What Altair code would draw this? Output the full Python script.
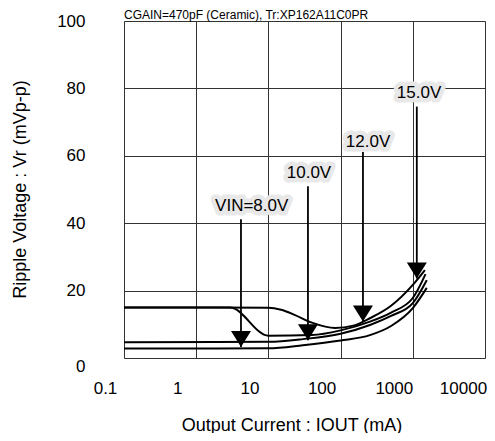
import altair as alt
import pandas as pd

# ---- curve data (Output current mA, ripple mVp-p) ----
c15_i = [0.1, 10, 15, 23, 40, 84, 150, 255, 500, 1000, 1470]
c15_v = [15.0, 14.9, 14.3, 12.8, 10.5, 8.9, 9.6, 11.8, 15.5, 21.7, 26.1]

c12_i = [0.1, 2.94, 10, 40, 100, 255, 500, 1000, 1500]
c12_v = [15.0, 15.0, 6.6, 6.8, 8.2, 10.8, 13.5, 17.8, 24.9]

c10_i = [0.1, 10, 30, 100, 255, 500, 1000, 1560]
c10_v = [4.7, 4.8, 5.6, 7.2, 9.8, 12.5, 16.3, 23.1]

c8_i = [0.1, 10, 30, 100, 255, 500, 1000, 1560]
c8_v = [2.8, 2.9, 3.8, 5.2, 6.8, 9.5, 14.8, 20.8]

# ---- arrow annotations ----
arrow_labels = ["VIN=8.0V", "10.0V", "12.0V", "15.0V"]
arrow_x = [4.17, 35.3, 204, 1136]
arrow_top = [41.2, 51.0, 61.1, 74.6]
arrow_tip = [3.3, 5.3, 10.8, 23.6]
label_x = [5.87, 36.5, 240, 1219]
label_y = [45.0, 54.9, 64.2, 78.5]

# ---- axis ticks ----
x_ticks = [0.1, 1, 10, 100, 1000, 10000]
y_ticks = [0, 20, 40, 60, 80, 100]

TITLE = "CGAIN=470pF (Ceramic), Tr:XP162A11C0PR"
FONT = "Liberation Sans"
BG = "#e8e8e8"

rows = []
for name, xs, ys in [("15.0V", c15_i, c15_v), ("12.0V", c12_i, c12_v),
                     ("10.0V", c10_i, c10_v), ("8.0V", c8_i, c8_v)]:
    for k, (a, b) in enumerate(zip(xs, ys)):
        rows.append({"series": name, "order": k, "I": a, "V": b})
curves = pd.DataFrame(rows)

arrows = pd.DataFrame({
    "label": arrow_labels, "x": arrow_x, "top": arrow_top, "tip": arrow_tip,
    "lx": label_x, "ly": label_y,
})

xscale = alt.Scale(type="log", domain=[0.1, 10000], nice=False)
yscale = alt.Scale(domain=[0, 100], nice=False, zero=False)

xaxis = alt.Axis(
    values=x_ticks, grid=True, gridColor="#333333", gridWidth=1,
    domain=False, ticks=False,
    labelExpr="datum.value < 1 ? '0.1' : format(datum.value, 'd')",
    labelFont=FONT, labelFontSize=17, labelColor="black",
    labelPadding=22, labelFlush=False,
    labelOffset={"condition": {"test": "datum.value == 10000", "value": -22}, "value": -19},
    title="Output Current : IOUT (mA)", titleFont=FONT, titleFontSize=18,
    titleFontWeight="normal", titleColor="black",
    titleX=167.5, titleY=67, titleAlign="center", titleBaseline="middle",
)
yaxis = alt.Axis(
    values=y_ticks, grid=True, gridColor="#333333", gridWidth=1,
    domain=False, ticks=False,
    labelFont=FONT, labelFontSize=17, labelColor="black",
    labelPadding=39, labelFlush=False,
    labelOffset={"condition": {"test": "datum.value == 0", "value": 8}, "value": 0},
    title="Ripple Voltage : Vr (mVp-p)", titleFont=FONT, titleFontSize=18,
    titleFontWeight="normal", titleColor="black",
    titleX=-104, titleY=168, titleAngle=270, titleAlign="center",
    titleBaseline="middle",
)

lines = alt.Chart(curves).mark_line(
    color="black", strokeWidth=2, interpolate="monotone", clip=True
).encode(
    x=alt.X("I:Q", scale=xscale, axis=xaxis),
    y=alt.Y("V:Q", scale=yscale, axis=yaxis),
    detail="series:N",
    order="order:Q",
)

rules = alt.Chart(arrows).mark_rule(color="black", strokeWidth=1.8).encode(
    x=alt.X("x:Q", scale=xscale),
    y=alt.Y("top:Q", scale=yscale),
    y2="tip:Q",
)

heads = alt.Chart(arrows).mark_point(
    shape="M-1,-1.6L1,-1.6L0,0Z", size=400, filled=True, color="black",
    opacity=1, strokeWidth=0,
).encode(
    x=alt.X("x:Q", scale=xscale),
    y=alt.Y("tip:Q", scale=yscale),
)

halo = alt.Chart(arrows).mark_text(
    font=FONT, fontSize=17, color=BG, stroke=BG, strokeWidth=9,
    strokeJoin="round", align="center", baseline="middle",
).encode(
    x=alt.X("lx:Q", scale=xscale),
    y=alt.Y("ly:Q", scale=yscale),
    text="label:N",
)

labels = alt.Chart(arrows).mark_text(
    font=FONT, fontSize=17, color="black", align="center", baseline="middle",
).encode(
    x=alt.X("lx:Q", scale=xscale),
    y=alt.Y("ly:Q", scale=yscale),
    text="label:N",
)

title_mark = alt.Chart(pd.DataFrame({"t": [TITLE]})).mark_text(
    font=FONT, fontSize=12, color="black", align="left", baseline="alphabetic",
).encode(
    x=alt.value(0), y=alt.value(-2), text="t:N",
)

chart = alt.layer(lines, rules, heads, halo, labels, title_mark).properties(
    width=361, height=337,
    padding={"left": 116, "top": 13, "right": 2, "bottom": 75},
    autosize="none",
).configure_view(
    fill=BG, stroke="black", strokeWidth=2,
).configure(background="white")

chart.save("out.html", embed_options={"renderer": "svg", "actions": False})
